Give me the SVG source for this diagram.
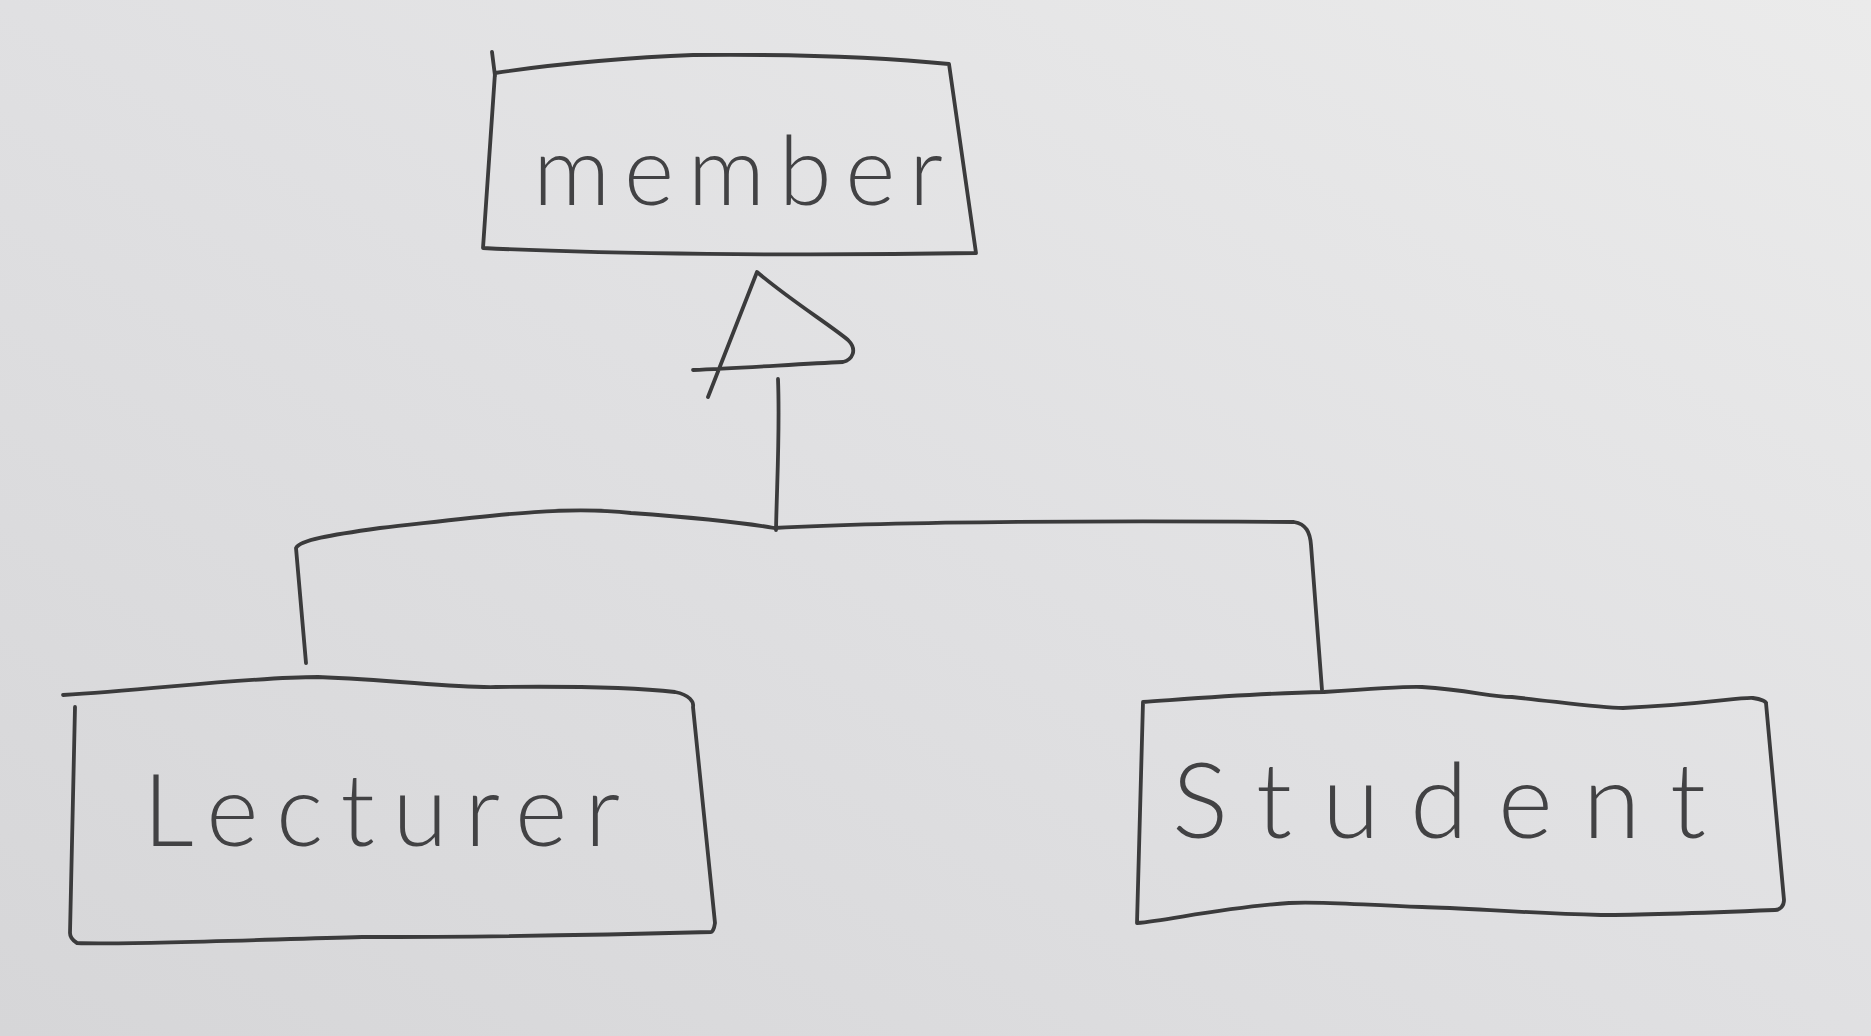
<svg xmlns="http://www.w3.org/2000/svg" width="1871" height="1036" viewBox="0 0 1871 1036">
<defs>
<linearGradient id="paper" x1="0" y1="1" x2="1" y2="0">
<stop offset="0" stop-color="#d6d6d8"/>
<stop offset="0.5" stop-color="#e0e0e2"/>
<stop offset="1" stop-color="#ebebeb"/>
</linearGradient>
<style>
.ink{fill:none;stroke:#3b3b3c;stroke-width:3.8;stroke-linecap:round;stroke-linejoin:round}
.lbl{font-family:Lato,"Liberation Sans",sans-serif;font-weight:300;fill:#424244}
</style>
</defs>
<rect width="1871" height="1036" fill="url(#paper)"/>
<g id="member">
<path class="ink" d="M495,73 C560,63 640,57 693,55 C800,54 890,58 949,64 L976,253 C800,256 600,254 483,248 L495,73 M492,52 L495,76"/>
<text class="lbl" x="533" y="205" font-size="96" textLength="410">member</text>
</g>
<g id="lecturer">
<path class="ink" d="M63,695 C150,690 250,677 318,677 C400,680 450,688 496,687 C580,686 640,688 675,692 C690,695 694,702 693,707 L715,923 C714,930 712,932 711,932 C600,935 450,937 362,937 C250,940 120,945 77,943 C72,940 70,936 70,933 L75,707"/>
<text class="lbl" x="143" y="846" font-size="100" textLength="477">Lecturer</text>
</g>
<g id="student">
<path class="ink" d="M1143,702 C1200,698 1260,693 1324,692 C1380,688 1410,686 1422,687 C1470,690 1490,697 1512,697 C1560,702 1600,708 1623,708 C1700,705 1740,697 1753,698 C1762,699 1766,702 1766,703 L1784,900 C1784,906 1780,910 1775,910 C1700,913 1650,915 1601,915 C1520,913 1470,908 1422,907 C1360,905 1320,901 1289,903 C1220,908 1170,920 1137,923 L1143,702"/>
<text class="lbl" x="1172" y="838" font-size="105" textLength="534">Student</text>
</g>
<g id="connectors">
<path class="ink" d="M708,397 L757,272 C790,300 830,325 848,340 C858,350 852,360 843,362 C800,364 740,368 693,370"/>
<path class="ink" d="M778,379 C780,430 777,480 776,530"/>
<path class="ink" d="M306,663 L296,548 C300,540 330,535 380,528 C480,517 560,505 631,513 C700,518 740,522 774,528 C850,524 1000,520 1294,522 C1306,524 1310,532 1311,545 L1322,690"/>
</g>
</svg>
